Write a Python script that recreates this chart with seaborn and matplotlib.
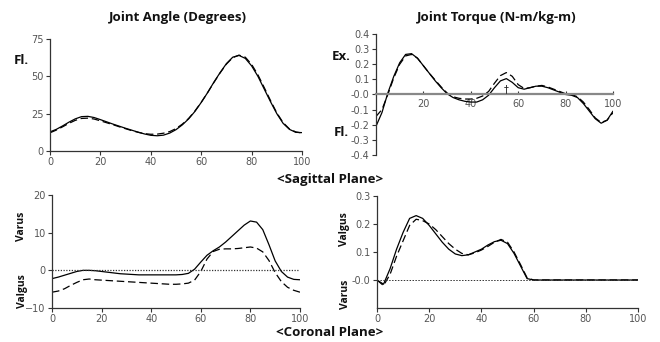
import numpy as np
import pandas as pd
import matplotlib
matplotlib.use("Agg")
import matplotlib.pyplot as plt
import seaborn as sns

# ---------------- data ----------------
gait_pct = [0, 2.5, 5, 7.5, 10, 12.5, 15, 17.5, 20, 22.5, 25, 27.5, 30, 32.5, 35, 37.5,
            40, 42.5, 45, 47.5, 50, 52.5, 55, 57.5, 60, 62.5, 65, 67.5, 70, 72.5, 75,
            77.5, 80, 82.5, 85, 87.5, 90, 92.5, 95, 97.5, 100]

sag_angle_solid = [12.8, 14.5, 16.8, 19.3, 21.5, 23.0, 23.2, 22.4, 21.0, 19.5, 18.0, 16.6,
                   15.2, 13.9, 12.6, 11.4, 10.5, 10.2, 10.6, 12.0, 14.3, 17.5, 21.5, 26.5,
                   32.5, 39.0, 46.0, 52.5, 58.5, 62.8, 64.0, 62.0, 57.0, 50.0, 41.5, 33.0,
                   25.0, 18.5, 14.5, 12.5, 12.3]
sag_angle_dashed = [12.2, 14.0, 16.2, 18.5, 20.5, 21.8, 22.0, 21.4, 20.2, 18.9, 17.6, 16.2,
                    14.9, 13.6, 12.5, 11.6, 11.2, 11.3, 11.9, 13.0, 15.0, 18.0, 21.8, 26.8,
                    32.6, 39.0, 45.8, 52.3, 58.2, 62.5, 64.2, 62.8, 58.0, 51.0, 42.5, 33.8,
                    25.5, 19.0, 14.8, 12.8, 12.0]

sag_torque_solid = [-0.21, -0.12, 0.01, 0.12, 0.21, 0.265, 0.27, 0.24, 0.19, 0.14, 0.09,
                    0.045, 0.005, -0.02, -0.035, -0.045, -0.05, -0.05, -0.035, -0.005, 0.045,
                    0.09, 0.105, 0.08, 0.045, 0.035, 0.045, 0.055, 0.055, 0.045, 0.03, 0.015,
                    0.0, -0.005, -0.02, -0.06, -0.11, -0.16, -0.19, -0.17, -0.11]
sag_torque_dashed = [-0.145, -0.10, 0.0, 0.11, 0.20, 0.255, 0.265, 0.24, 0.19, 0.14, 0.095,
                     0.05, 0.01, -0.015, -0.025, -0.03, -0.03, -0.025, -0.01, 0.02, 0.075,
                     0.125, 0.145, 0.12, 0.065, 0.04, 0.045, 0.055, 0.06, 0.05, 0.035, 0.02,
                     0.005, 0.0, -0.015, -0.05, -0.10, -0.155, -0.185, -0.17, -0.12]

cor_angle_solid = [-2.2, -1.8, -1.3, -0.8, -0.3, 0.0, 0.0, -0.1, -0.3, -0.5, -0.7, -0.9,
                   -1.0, -1.1, -1.2, -1.2, -1.2, -1.2, -1.2, -1.2, -1.2, -1.1, -0.8, 0.3,
                   2.2, 4.0, 5.2, 6.2, 7.5, 9.0, 10.5, 12.0, 13.1, 12.8, 10.8, 6.8, 2.5,
                   -0.3, -1.8, -2.4, -2.5]
cor_angle_dashed = [-5.8, -5.5, -4.9, -4.0, -3.2, -2.5, -2.3, -2.5, -2.6, -2.7, -2.8, -2.9,
                    -3.0, -3.1, -3.2, -3.3, -3.4, -3.5, -3.6, -3.7, -3.7, -3.6, -3.4, -2.6,
                    -0.3, 3.0, 5.0, 5.6, 5.7, 5.7, 5.8, 6.0, 6.2, 5.9, 4.9, 2.6, -0.6, -3.0,
                    -4.5, -5.3, -5.8]

cor_torque_solid = [0.0, -0.015, 0.04, 0.11, 0.17, 0.22, 0.23, 0.22, 0.195, 0.165, 0.135,
                    0.11, 0.093, 0.087, 0.09, 0.10, 0.11, 0.125, 0.137, 0.142, 0.13, 0.095,
                    0.05, 0.005, 0.0, 0.0, 0.0, 0.0, 0.0, 0.0, 0.0, 0.0, 0.0, 0.0, 0.0, 0.0,
                    0.0, 0.0, 0.0, 0.0, 0.0]
cor_torque_dashed = [0.0, -0.02, 0.02, 0.085, 0.14, 0.195, 0.217, 0.212, 0.20, 0.18, 0.155,
                     0.13, 0.11, 0.095, 0.09, 0.097, 0.107, 0.12, 0.135, 0.145, 0.135, 0.10,
                     0.055, 0.008, 0.0, 0.0, 0.0, 0.0, 0.0, 0.0, 0.0, 0.0, 0.0, 0.0, 0.0, 0.0,
                     0.0, 0.0, 0.0, 0.0, 0.0]

x_ticks_full = [0, 20, 40, 60, 80, 100]
x_ticks_torque = [20, 40, 60, 80, 100]
tl_yticks = [0, 25, 50, 75]
tr_yticks = [-0.4, -0.3, -0.2, -0.1, 0.0, 0.1, 0.2, 0.3, 0.4]
tr_ylabels = ["-0.4", "-0.3", "-0.2", "-0.1", "-0.0", "0.1", "0.2", "0.3", "0.4"]
bl_yticks = [-10, 0, 10, 20]
br_yticks = [0.0, 0.1, 0.2, 0.3]
br_ylabels = ["-0.0", "0.1", "0.2", "0.3"]

# ---------------- style ----------------
sns.set_style("ticks")
plt.rcParams['font.family'] = ['DejaVu Sans']

fig = plt.figure(figsize=(6.6, 3.42), dpi=100)

ax_tl = fig.add_axes([0.0758, 0.5585, 0.3818, 0.3275])
ax_tr = fig.add_axes([0.5697, 0.5468, 0.3591, 0.3538])
ax_bl = fig.add_axes([0.0788, 0.0994, 0.3757, 0.3304])
ax_br = fig.add_axes([0.5712, 0.0994, 0.3955, 0.3275])

def draw(ax, solid, dashed):
    df = pd.DataFrame({
        "x": gait_pct * 2,
        "y": list(solid) + list(dashed),
        "grp": ["solid"] * len(solid) + ["dashed"] * len(dashed),
    })
    sns.lineplot(data=df, x="x", y="y", style="grp", ax=ax, color="black",
                 dashes={"solid": "", "dashed": (6, 3)}, linewidth=0.9,
                 legend=False, sort=False)
    ax.set_xlabel("")
    ax.set_ylabel("")
    for s in ["top", "right"]:
        ax.spines[s].set_visible(False)
    for s in ["left", "bottom"]:
        ax.spines[s].set_color("#333333")
        ax.spines[s].set_linewidth(0.9)
    ax.tick_params(labelsize=7, colors="#333333", length=3, width=0.8, pad=1.5)

draw(ax_tl, sag_angle_solid, sag_angle_dashed)
draw(ax_tr, sag_torque_solid, sag_torque_dashed)
draw(ax_bl, cor_angle_solid, cor_angle_dashed)
draw(ax_br, cor_torque_solid, cor_torque_dashed)

tick_col = "#555555"

# top-left
ax_tl.set_xlim(0, 100)
ax_tl.set_ylim(0, 75)
ax_tl.set_xticks(x_ticks_full)
ax_tl.set_yticks(tl_yticks)

# top-right
ax_tr.set_xlim(0, 100)
ax_tr.set_ylim(-0.4, 0.4)
ax_tr.set_xticks(x_ticks_torque)
ax_tr.set_yticks(tr_yticks)
ax_tr.set_yticklabels(tr_ylabels)
ax_tr.spines["bottom"].set_position(("data", 0))
ax_tr.spines["bottom"].set_color("#888888")
ax_tr.spines["bottom"].set_linewidth(1.6)
ax_tr.tick_params(axis="x", direction="in", length=2, pad=3)
ax_tr.text(55, 0.005, "\u2020", ha="center", va="bottom", fontsize=7, color="#222222")

# bottom-left
ax_bl.set_xlim(0, 100)
ax_bl.set_ylim(-10, 20)
ax_bl.set_xticks(x_ticks_full)
ax_bl.set_yticks(bl_yticks)
ax_bl.axhline(0, color="#333333", linestyle=(0, (1, 1.2)), linewidth=0.9)

# bottom-right
ax_br.set_xlim(0, 100)
ax_br.set_ylim(-0.1, 0.3)
ax_br.set_xticks(x_ticks_full)
ax_br.set_yticks(br_yticks)
ax_br.set_yticklabels(br_ylabels)
ax_br.axhline(0, color="#333333", linestyle=(0, (1.5, 1.5)), linewidth=0.7)

for ax in [ax_tl, ax_tr, ax_bl, ax_br]:
    for lab in ax.get_xticklabels() + ax.get_yticklabels():
        lab.set_color(tick_col)
        lab.set_fontsize(7)

# ---------------- annotations ----------------
bold = dict(fontweight="bold", color="#111111", family=["Open Sans", "DejaVu Sans"])
fs = 9.5
fs_side = 7.5
fig.text(178 / 660, 1 - 18 / 342, "Joint Angle (Degrees)", ha="center", va="center", fontsize=fs, **bold)
fig.text(497 / 660, 1 - 18 / 342, "Joint Torque (N-m/kg-m)", ha="center", va="center", fontsize=fs, **bold)
fig.text(330 / 660, 1 - 180 / 342, "<Sagittal Plane>", ha="center", va="center", fontsize=fs, **bold)
fig.text(330 / 660, 1 - 333 / 342, "<Coronal Plane>", ha="center", va="center", fontsize=fs, **bold)

fig.text(21 / 660, 1 - 60 / 342, "Fl.", ha="center", va="center", fontsize=fs, **bold)
fig.text(341 / 660, 1 - 57 / 342, "Ex.", ha="center", va="center", fontsize=fs, **bold)
fig.text(341 / 660, 1 - 133 / 342, "Fl.", ha="center", va="center", fontsize=fs, **bold)

fig.text(22 / 660, 1 - 226 / 342, "Varus", ha="center", va="center", rotation=90, fontsize=fs_side, **bold)
fig.text(22 / 660, 1 - 291 / 342, "Valgus", ha="center", va="center", rotation=90, fontsize=fs_side, **bold)
fig.text(345 / 660, 1 - 229 / 342, "Valgus", ha="center", va="center", rotation=90, fontsize=fs_side, **bold)
fig.text(345 / 660, 1 - 294 / 342, "Varus", ha="center", va="center", rotation=90, fontsize=fs_side, **bold)

fig.savefig("out.png", dpi=100)
